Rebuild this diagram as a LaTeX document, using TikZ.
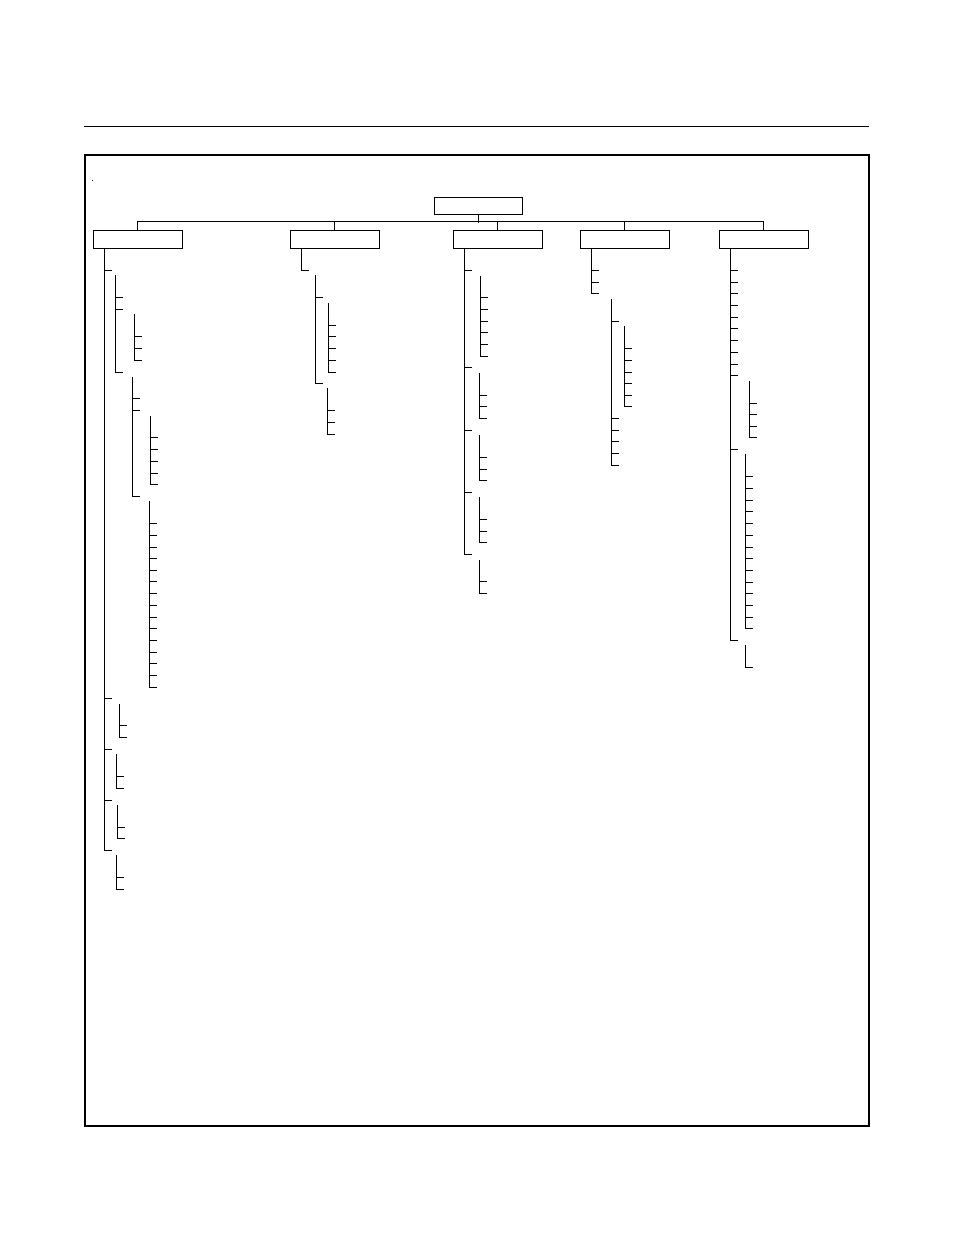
\documentclass[tikz,border=0pt]{standalone}
\begin{document}
\begin{tikzpicture}[x=1pt,y=-1pt,
  tl/.style={line width=1pt,black},
  boxst/.style={draw,line width=1pt,minimum width=89pt,minimum height=18pt,inner sep=0pt}]
\useasboundingbox (0,0) rectangle (954,1235);
\newcommand\tgrp[4]{%
  \draw[tl] (#1,#2) -- (#1,#4) -- ++(8,0);
  \foreach \t in {#3} {\draw[tl] (#1,\t) -- ++(8,0);}}
% top rule and frame
\draw[line width=1pt] (84,126) -- (869,126);
\draw[line width=2pt] (85,155) rectangle (869,1126);
\fill (91.5,179.5) rectangle (92.5,180.5);
% boxes
\node[boxst,minimum width=88pt,minimum height=17pt] (root) at (478,205.5) {};
\node[boxst] (b1) at (137.5,239) {};
\node[boxst] (b2) at (334.5,239) {};
\node[boxst] (b3) at (497.5,239) {};
\node[boxst] (b4) at (624.5,239) {};
\node[boxst] (b5) at (763.5,239) {};
\draw[tl] (root.south) -- ++(0,8);
\draw[tl] (b1.north) -- ++(0,-8) -| (b5.north);
\draw[tl] (b2.north) -- ++(0,-8);
\draw[tl] (b3.north) -- ++(0,-8);
\draw[tl] (b4.north) -- ++(0,-8);
% column 1
\tgrp{104}{248}{270,698,749,800}{850}
\tgrp{115}{275}{297,309}{372}
\tgrp{134}{314}{336,348}{360}
\tgrp{132}{377}{398,410}{496}
\tgrp{150}{416}{437,449,461,473}{484}
\tgrp{149}{501}{523,535,547,558,570,581,593,605,617,628,640,652,663,675}{687}
\tgrp{119}{704}{725}{737}
\tgrp{116}{754}{776}{788}
\tgrp{117}{805}{827}{838}
\tgrp{116}{855}{877}{889}
% column 2
\draw[tl] (301,248) -- (301,270) -- ++(8,0);
\tgrp{315}{275}{297}{383}
\tgrp{328}{303}{325,336,348,360}{372}
\tgrp{327}{388}{410,422}{434}
% column 3
\tgrp{464}{248}{270,367,430,492}{554}
\tgrp{480}{276}{297,309,321,332,344}{356}
\tgrp{479}{373}{395,406}{418}
\tgrp{479}{435}{457,469}{480}
\tgrp{479}{497}{519,531}{542}
\tgrp{479}{560}{581}{593}
% column 4
\tgrp{591}{248}{270,282}{293}
\tgrp{611}{299}{321,418,430,441,453}{465}
\tgrp{624}{326}{348,360,372,383,395}{406}
% column 5
\tgrp{730}{248}{270,282,293,305,317,328,340,352,364,375,449}{640}
\tgrp{749}{381}{403,414,426}{437}
\tgrp{745}{454}{476,488,500,511,523,535,547,558,570,582,593,605,617}{628}
\draw[tl] (745,645) -- (745,667) -- ++(8,0);
\end{tikzpicture}
\end{document}
